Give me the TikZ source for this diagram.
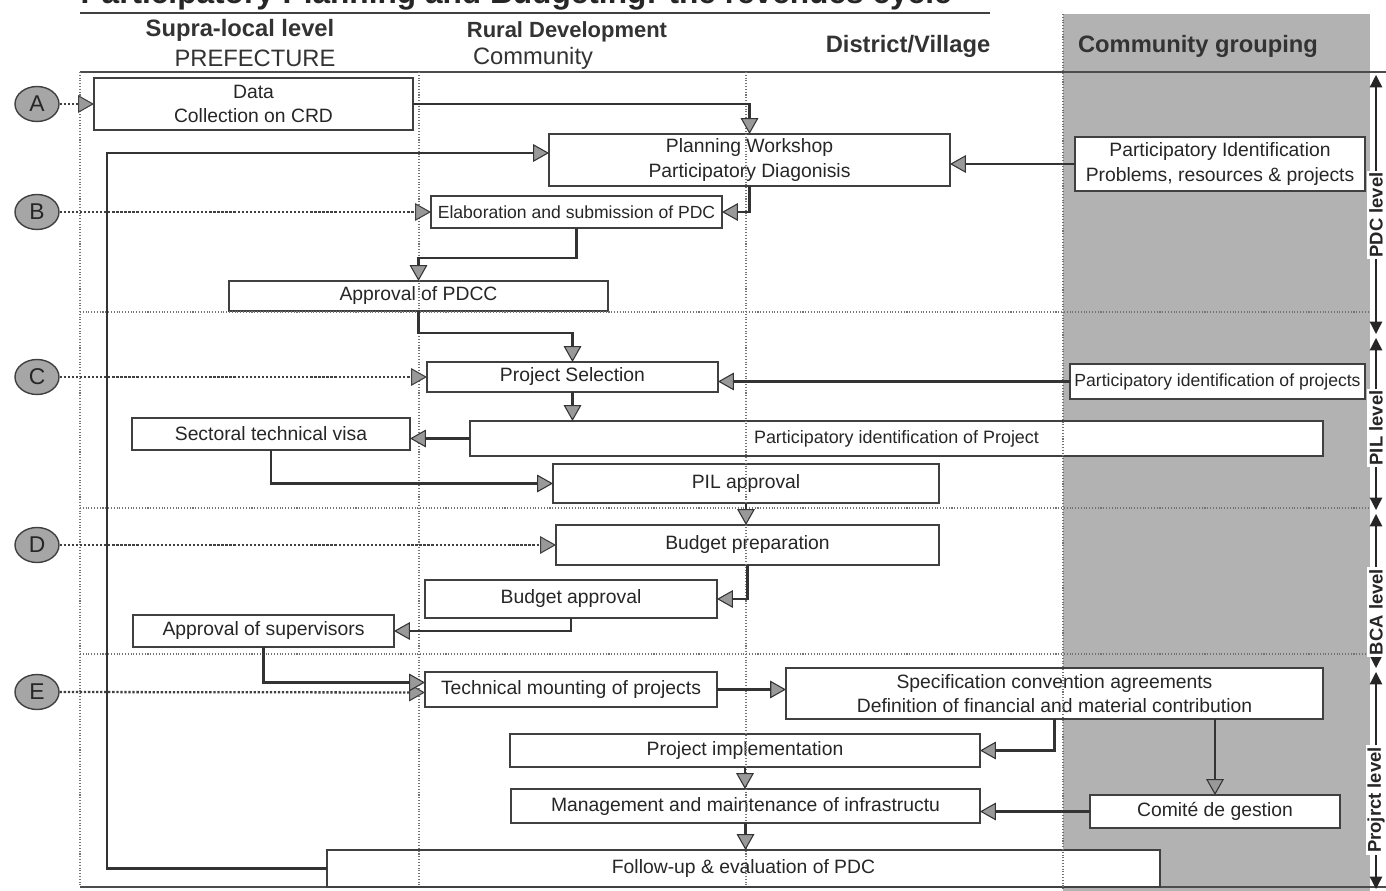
\documentclass[tikz,border=0pt]{standalone}
\usepackage{fontspec}
\setmainfont{Liberation Sans}
\usetikzlibrary{arrows.meta,shapes.geometric,calc}
\newcommand\bnode[7][]{\node[box,#1,minimum width={(#5-#3)*0.02cm},minimum height={(#6-#4)*0.02cm}] (#2) at ({(#3+#5)/2},{(#4+#6)/2}) {#7};}
\begin{document}
\begin{tikzpicture}[x=0.02cm,y=-0.02cm,
  box/.style={draw=black!75,line width=0.8pt,fill=white,inner sep=0pt,outer sep=0pt,align=center,font=\fontsize{11}{14}\selectfont,text=black!85},
  tip/.style={-{Triangle[length=9pt,width=10pt,fill=black!40,line width=0.6pt]}},
  conn/.style={tip,draw=black!80,line width=1.6pt},
  dotarr/.style={tip,draw=black!75,line width=1.3pt,densely dotted},
  frame/.style={draw=black!55,line width=0.6pt,densely dotted},
  hdr/.style={font=\fontsize{13.5}{16}\selectfont\bfseries,text=black!80},
  hdrr/.style={font=\fontsize{13.5}{16}\selectfont,text=black!80},
  circ/.style={ellipse,draw=black!75,line width=0.8pt,fill=black!35,minimum width=0.88cm,minimum height=0.7cm,inner sep=0pt,font=\fontsize{13}{13}\selectfont,text=black!85},
  lev/.style={draw=black!85,line width=0.8pt,{Triangle[length=7pt,width=7pt]}-{Triangle[length=7pt,width=7pt]}},
  levlab/.style={rotate=90,fill=white,inner sep=1pt,font=\fontsize{10.5}{12}\selectfont\bfseries,text=black!85}
]
\useasboundingbox (0,0) rectangle (1386,891);
\clip (0,0) rectangle (1386,891);
\fill[white] (0,0) rectangle (1386,891);
% gray community grouping area
\fill[black!30] (1063,14) rectangle (1370,891);
% title (cut off at the top edge, as in the reference)
\node[anchor=base east,font=\fontsize{18}{20}\selectfont\bfseries,text=black!85,inner sep=0pt] (title) at (952,4) {Participatory Planning and Budgeting: the revenues cycle};
\draw[black!75,line width=1pt] (80,13) -- (990,13);
% headers
\node[hdr] (h1) at (240,30) {Supra-local level};
\node[hdrr] (h1b) at (255,58) {PREFECTURE};
\node[hdr,font=\fontsize{12.5}{15}\selectfont\bfseries] (h2) at (567,32) {Rural Development};
\node[hdrr] (h2b) at (533,58) {Community};
\node[hdr] (h3) at (908,46) {District/Village};
\node[hdr] (h4) at (1198,46) {Community grouping};
% frame
\draw[black!70,line width=0.9pt] (80,72) -- (1386,72);
\draw[black!70,line width=0.9pt] (80,887) -- (1386,887);
% boxes
\bnode{data}{94}{78}{413}{130}{Data\\Collection on CRD}
\bnode{pw}{549}{134}{950}{186}{Planning Workshop\\Participatory Diagonisis}
\bnode{pia}{1075}{137}{1365}{191}{Participatory Identification\\Problems, resources \& projects}
\bnode[font=\fontsize{10}{12}\selectfont]{elab}{431}{196}{722}{228}{Elaboration and submission of PDC}
\bnode{apdcc}{229}{281}{608}{311}{Approval of PDCC}
\bnode{ps}{427}{362}{718}{392}{Project Selection}
\bnode[font=\fontsize{10}{12}\selectfont]{pib}{1070}{364}{1365}{399}{Participatory identification of projects}
\bnode{stv}{132}{418}{410}{450}{Sectoral technical visa}
\bnode[font=\fontsize{10.2}{12}\selectfont]{pip}{470}{421}{1323}{456}{Participatory identification of Project}
\bnode{pil}{553}{464}{939}{503}{PIL approval}
\bnode{bp}{556}{525}{939}{565}{Budget preparation}
\bnode{ba}{425}{580}{717}{618}{Budget approval}
\bnode{aos}{133}{615}{394}{647}{Approval of supervisors}
\bnode{tm}{425}{672}{717}{707}{Technical mounting of projects}
\bnode{spec}{786}{668}{1323}{719}{Specification convention agreements\\Definition of financial and material contribution}
\bnode{pimpl}{510}{734}{980}{767}{Project implementation}
\bnode{mgmt}{511}{789}{980}{823}{Management and maintenance of infrastructu}
\bnode{cg}{1090}{795}{1340}{828}{Comit\'e de gestion}
\bnode{fu}{327}{850}{1160}{887}{Follow-up \& evaluation of PDC}
% dotted dividers
\draw[frame] (80,72) -- (80,887);
\draw[frame] (419,72) -- (419,887);
\draw[frame] (746,72) -- (746,887);
\draw[frame] (1063,14) -- (1063,891);
\draw[frame] (80,312) -- (1370,312);
\draw[frame] (80,508) -- (1370,508);
\draw[frame] (80,654) -- (1370,654);
% circles
\node[circ] (A) at (37,104) {A};
\node[circ] (B) at (37,212) {B};
\node[circ] (C) at (37,377) {C};
\node[circ] (D) at (37,545) {D};
\node[circ] (E) at (37,692) {E};
\draw[dotarr] (A) -- (data.west);
\draw[dotarr] (B) -- (elab.west);
\draw[dotarr] (C) -- (ps.west);
\draw[dotarr] (D) -- (bp.west);
\draw[dotarr] (E) -- ([yshift=-0.06cm]tm.west);
% connectors
\draw[conn] (data.east) -| (pw.north);
\draw[conn] (fu.west) -- ++(-220,0) |- ([yshift=0.14cm]pw.west);
\draw[conn] (pia.west) -- (pia.west -| pw.east);
\draw[conn] (pw.south) |- (elab.east);
\draw[conn] (elab.south) -- ++(0,30) -| (apdcc.north);
\draw[conn] (apdcc.south) -- ++(0,22) -| (ps.north);
\draw[conn] (pib.west) -- (pib.west -| ps.east);
\draw[conn] (ps.south) -- (ps.south |- pip.north);
\draw[conn] (pip.west) -- (pip.west -| stv.east);
\draw[conn] (stv.south) |- (pil.west);
\draw[conn] (pil.south) -- (pil.south |- bp.north);
\draw[conn] (bp.south) |- (ba.east);
\draw[conn] (ba.south) |- (aos.east);
\draw[conn] (aos.south) |- ([yshift=0.14cm]tm.west);
\draw[conn] (tm.east) -- (tm.east -| spec.west);
\draw[conn] (spec.south) |- (pimpl.east);
\draw[conn] (spec.south -| cg.north) -- (cg.north);
\draw[conn] (pimpl.south) -- (pimpl.south |- mgmt.north);
\draw[conn] (cg.west) -- (cg.west -| mgmt.east);
\draw[conn] (mgmt.south) -- (mgmt.south |- fu.north);
% level markers
\draw[lev] (1376,75) -- (1376,334);
\draw[lev] (1376,338) -- (1376,510);
\draw[lev] (1376,514) -- (1376,668);
\draw[lev] (1376,672) -- (1376,889);
\node[levlab] (l1) at (1376,215) {PDC level};
\node[levlab] (l2) at (1376,428) {PIL level};
\node[levlab] (l3) at (1376,612) {BCA level};
\node[levlab] (l4) at (1376,800) {Projrct level};
\end{tikzpicture}
\end{document}
